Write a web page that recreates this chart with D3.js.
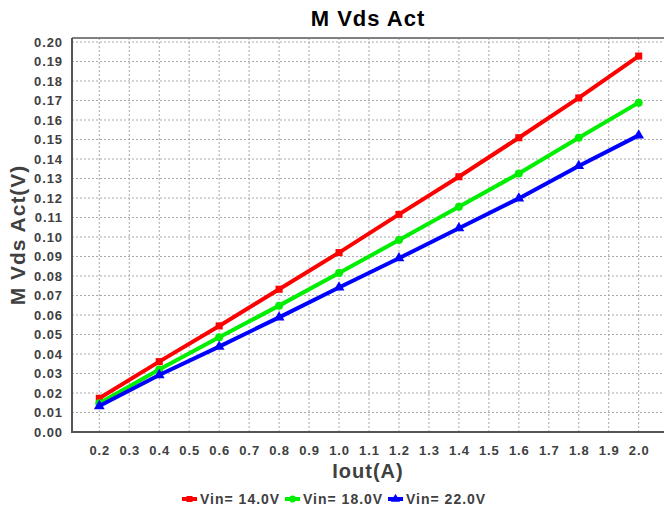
<!DOCTYPE html>
<html>
<head>
<meta charset="utf-8">
<script src="https://cdn.jsdelivr.net/npm/d3@7"></script>
<style>
  body { margin: 0; background: #fff; }
  svg { display: block; font-family: "Liberation Sans", Arial, sans-serif; }
</style>
</head>
<body>
<div id="viz"></div>
<script>
// data
const iout = [0.2, 0.4, 0.6, 0.8, 1.0, 1.2, 1.4, 1.6, 1.8, 2.0];
const vin14 = [0.0173, 0.0361, 0.0544, 0.0732, 0.0920, 0.1116, 0.1309, 0.1509, 0.1713, 0.1928];
const vin18 = [0.0147, 0.0321, 0.0486, 0.0648, 0.0815, 0.0985, 0.1155, 0.1326, 0.1509, 0.1689];
const vin22 = [0.0133, 0.0292, 0.0438, 0.0588, 0.0741, 0.0891, 0.1045, 0.1198, 0.1364, 0.1521];
const seriesNames = ["Vin= 14.0V", "Vin= 18.0V", "Vin= 22.0V"];
const seriesColors = ["#ff0000", "#00ee00", "#0000ff"];
const xTicks = d3.range(2, 21).map(d => d / 10);
const yTicks = d3.range(0, 21).map(d => d / 100);

const width = 664;
const height = 515;
const frame = { left: 72, right: 664, top: 38, bottom: 432 };

const svg = d3.select("#viz")
    .append("svg")
    .attr("width", width)
    .attr("height", height);

const x = d3.scaleLinear().domain([0.2, 2.0]).range([99.3, 638.7]);
const y = d3.scaleLinear().domain([0, 0.20]).range([frame.bottom, 42]);

// grid
svg.append("g")
    .selectAll("line")
    .data(yTicks.slice(1))
    .join("line")
    .attr("x1", frame.left).attr("x2", frame.right)
    .attr("y1", d => y(d)).attr("y2", d => y(d))
    .attr("stroke", "#a8a8a8")
    .attr("stroke-dasharray", "2,2");

svg.append("g")
    .selectAll("line")
    .data(xTicks)
    .join("line")
    .attr("x1", d => x(d)).attr("x2", d => x(d))
    .attr("y1", frame.top).attr("y2", frame.bottom)
    .attr("stroke", "#a8a8a8")
    .attr("stroke-dasharray", "2,2");

// top frame line
svg.append("line")
    .attr("x1", frame.left).attr("x2", frame.right)
    .attr("y1", frame.top).attr("y2", frame.top)
    .attr("stroke", "#808080").attr("stroke-width", 2);

// axes
const xAxis = svg.append("g")
    .attr("transform", `translate(0,${frame.bottom})`)
    .call(d3.axisBottom(x).tickValues(xTicks).tickFormat(d3.format(".1f")).tickSize(0).tickPadding(14));
xAxis.select(".domain").remove();

const yAxis = svg.append("g")
    .attr("transform", `translate(${frame.left},0)`)
    .call(d3.axisLeft(y).tickValues(yTicks).tickFormat(d3.format(".2f")).tickSize(0).tickPadding(9));
yAxis.select(".domain").remove();

svg.selectAll(".tick text")
    .attr("font-family", "Liberation Sans, Arial, sans-serif")
    .attr("font-size", 13)
    .attr("font-weight", "bold")
    .attr("letter-spacing", 0.9)
    .attr("fill", "#404040");

svg.append("line")
    .attr("x1", frame.left).attr("x2", frame.left)
    .attr("y1", frame.top).attr("y2", frame.bottom + 1)
    .attr("stroke", "#555").attr("stroke-width", 2);
svg.append("line")
    .attr("x1", frame.left - 1).attr("x2", frame.right)
    .attr("y1", frame.bottom).attr("y2", frame.bottom)
    .attr("stroke", "#555").attr("stroke-width", 2);

// series
const series = [vin14, vin18, vin22];
const line = d3.line().x(d => x(d[0])).y(d => y(d[1]));
const symbols = [d3.symbolSquare, d3.symbolCircle, d3.symbolTriangle];

series.forEach((vals, i) => {
  const pts = iout.map((v, j) => [v, vals[j]]);
  svg.append("path")
      .datum(pts)
      .attr("d", line)
      .attr("fill", "none")
      .attr("stroke", seriesColors[i])
      .attr("stroke-width", 4);
  svg.append("g")
      .selectAll("path")
      .data(pts)
      .join("path")
      .attr("transform", d => `translate(${x(d[0])},${y(d[1])})`)
      .attr("d", d3.symbol().type(symbols[i]).size(50))
      .attr("fill", seriesColors[i]);
});

// titles
svg.append("text")
    .attr("x", (frame.left + frame.right) / 2)
    .attr("y", 26)
    .attr("text-anchor", "middle")
    .attr("font-size", 22)
    .attr("font-weight", "bold")
    .attr("letter-spacing", 1)
    .attr("fill", "#000")
    .text("M Vds Act");

svg.append("text")
    .attr("x", (frame.left + frame.right) / 2)
    .attr("y", 478)
    .attr("text-anchor", "middle")
    .attr("font-size", 20)
    .attr("font-weight", "bold")
    .attr("letter-spacing", 1)
    .attr("fill", "#404040")
    .text("Iout(A)");

svg.append("text")
    .attr("transform", `translate(25,${(frame.top + frame.bottom) / 2}) rotate(-90)`)
    .attr("text-anchor", "middle")
    .attr("font-size", 21)
    .attr("font-weight", "bold")
    .attr("letter-spacing", 1)
    .attr("fill", "#404040")
    .text("M Vds Act(V)");

// legend
const legendX = [182, 285, 388];
const legend = svg.append("g");
seriesNames.forEach((name, i) => {
  const g = legend.append("g").attr("transform", `translate(${legendX[i]},499)`);
  g.append("line")
      .attr("x1", 0).attr("x2", 15)
      .attr("stroke", seriesColors[i]).attr("stroke-width", 4);
  g.append("path")
      .attr("transform", "translate(7.5,0)")
      .attr("d", d3.symbol().type(symbols[i]).size(36))
      .attr("fill", seriesColors[i]);
  g.append("text")
      .attr("x", 18)
      .attr("y", 5)
      .attr("font-size", 14)
      .attr("font-weight", "bold")
      .attr("letter-spacing", 1)
      .attr("fill", "#404040")
      .text(name);
});
</script>
</body>
</html>
